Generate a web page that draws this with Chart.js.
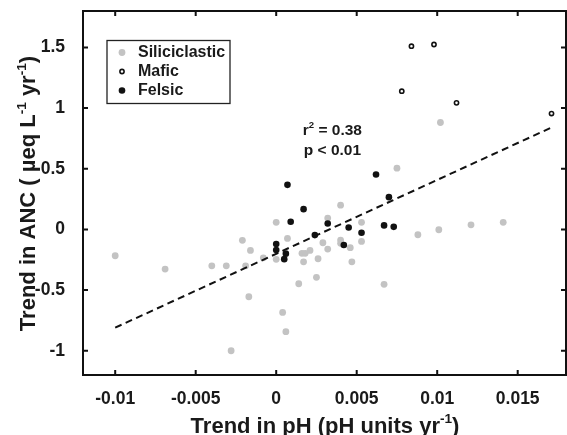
<!DOCTYPE html>
<html><head><meta charset="utf-8">
<script src="https://cdn.jsdelivr.net/npm/chart.js@4"></script>
<style>html,body{margin:0;padding:0;background:#fff;overflow:hidden;}#wrap{width:567px;height:435px;}canvas{display:block;}</style>
</head><body><div id="wrap"><canvas id="c" width="567" height="435"></canvas></div>
<script>
const xTicks = [-0.01, -0.005, 0, 0.005, 0.01, 0.015];
const xTickLabels = ['-0.01', '-0.005', '0', '0.005', '0.01', '0.015'];
const yTicks = [-1, -0.5, 0, 0.5, 1, 1.5];
const yTickLabels = ['-1', '-0.5', '0', '0.5', '1', '1.5'];

const siliciclasticX = [-0.0100,-0.0069,-0.0040,-0.0031,-0.0021,-0.0016,-0.0019,-0.0017,-0.0008,0.0000,0.0000,0.0007,0.0004,0.0006,-0.0028,0.0014,0.0016,0.0018,0.0017,0.0021,0.0026,0.0025,0.0029,0.0032,0.0032,0.0040,0.0053,0.0088,0.0101,0.0121,0.0141,0.0040,0.0040,0.0046,0.0053,0.0047,0.0067,0.0102,0.0075];
const siliciclasticY = [-0.217,-0.327,-0.300,-0.300,-0.090,-0.173,-0.300,-0.555,-0.234,0.058,-0.247,-0.074,-0.684,-0.843,-1.000,-0.448,-0.197,-0.197,-0.267,-0.173,-0.242,-0.395,-0.110,-0.162,0.093,0.200,0.058,-0.044,-0.003,0.038,0.058,-0.088,-0.115,-0.151,-0.099,-0.267,-0.453,0.881,0.505];

const maficX = [0.0084, 0.0098, 0.0078, 0.0112, 0.0171];
const maficY = [1.510, 1.524, 1.139, 1.043, 0.955];

const felsicX = [0.0007,0.0017,0.0009,0.0032,0.0024,0.0000,0.0000,0.0006,0.0005,0.0062,0.0070,0.0045,0.0053,0.0042,0.0067,0.0073];
const felsicY = [0.367,0.167,0.063,0.049,-0.047,-0.121,-0.170,-0.200,-0.245,0.453,0.266,0.016,-0.028,-0.129,0.033,0.021];

const fitX = [-0.0100, 0.0171];
const fitY = [-0.81, 0.84];

const seriesLabels = ['Siliciclastic', 'Mafic', 'Felsic'];
const annotationLines = ['r', '2', ' = 0.38', 'p < 0.01'];

const FF = "'Liberation Sans', Arial, Helvetica, sans-serif";
const pts = (xs, ys) => xs.map((x, i) => ({x: x, y: ys[i]}));

const styles = {
  Siliciclastic: {pointRadius: 3.4, backgroundColor: '#c3c3c3', borderColor: '#c3c3c3', borderWidth: 0},
  Mafic: {pointRadius: 2.1, backgroundColor: '#ffffff', borderColor: '#111111', borderWidth: 1.6},
  Felsic: {pointRadius: 3.3, backgroundColor: '#111111', borderColor: '#111111', borderWidth: 0}
};

function drawParts(ctx, parts, x, y, size, align) {
  let total = 0;
  const widths = parts.map(p => {
    ctx.font = 'bold ' + (p.sup ? size * 0.62 : size) + 'px ' + FF;
    const w = ctx.measureText(p.t).width;
    total += w;
    return w;
  });
  let cx = align === 'center' ? x - total / 2 : x;
  parts.forEach((p, i) => {
    ctx.font = 'bold ' + (p.sup ? size * 0.62 : size) + 'px ' + FF;
    ctx.fillText(p.t, cx, p.sup ? y - size * 0.42 : y);
    cx += widths[i];
  });
}

const decor = {
  id: 'decor',
  afterDraw(chart) {
    const ctx = chart.ctx;
    const a = chart.chartArea;
    const xs = chart.scales.x, ys = chart.scales.y;
    ctx.save();
    ctx.strokeStyle = '#111';
    ctx.lineWidth = 2;
    ctx.strokeRect(a.left, a.top, a.right - a.left, a.bottom - a.top);
    const tl = 5;
    ctx.beginPath();
    xs.ticks.forEach(t => {
      const px = xs.getPixelForValue(t.value);
      ctx.moveTo(px, a.bottom); ctx.lineTo(px, a.bottom - tl);
      ctx.moveTo(px, a.top); ctx.lineTo(px, a.top + tl);
    });
    ys.ticks.forEach(t => {
      const py = ys.getPixelForValue(t.value);
      ctx.moveTo(a.left, py); ctx.lineTo(a.left + tl, py);
      ctx.moveTo(a.right, py); ctx.lineTo(a.right - tl, py);
    });
    ctx.stroke();

    // legend
    const lx = a.left + 24, ly = a.top + 29.5, lw = 123, lh = 63;
    ctx.fillStyle = '#fff';
    ctx.fillRect(lx, ly, lw, lh);
    ctx.lineWidth = 1.3;
    ctx.strokeStyle = '#222';
    ctx.strokeRect(lx, ly, lw, lh);
    seriesLabels.forEach((name, i) => {
      const st = styles[name];
      const my = ly + 12 + i * 19;
      const mx = lx + 15;
      ctx.beginPath();
      ctx.arc(mx, my, st.pointRadius, 0, Math.PI * 2);
      ctx.fillStyle = st.backgroundColor;
      ctx.fill();
      if (st.borderWidth) { ctx.lineWidth = st.borderWidth; ctx.strokeStyle = st.borderColor; ctx.stroke(); }
      ctx.fillStyle = '#1a1a1a';
      ctx.font = 'bold 16px ' + FF;
      ctx.textBaseline = 'middle';
      ctx.textAlign = 'left';
      ctx.fillText(name, lx + 31, my + 0.5);
    });

    // annotation
    ctx.fillStyle = '#1a1a1a';
    ctx.textBaseline = 'alphabetic';
    ctx.textAlign = 'left';
    const ax = xs.getPixelForValue(0.00165);
    drawParts(ctx, [{t: annotationLines[0]}, {t: annotationLines[1], sup: true}, {t: annotationLines[2]}], ax, a.top + 123.5, 15.5, 'left');
    drawParts(ctx, [{t: annotationLines[3]}], ax + 1, a.top + 143.5, 15.5, 'left');

    // axis titles
    ctx.fillStyle = '#1a1a1a';
    drawParts(ctx, [{t: 'Trend in pH (pH units yr'}, {t: '-1', sup: true}, {t: ')'}], (a.left + a.right) / 2 + 0.5, 432.5, 22, 'center');
    ctx.translate(35, 193.5);
    ctx.rotate(-Math.PI / 2);
    drawParts(ctx, [{t: 'Trend in ANC ( \u00b5eq L'}, {t: '-1', sup: true}, {t: ' yr'}, {t: '-1', sup: true}, {t: ')'}], 0, 0, 22, 'center');
    ctx.restore();
  }
};

new Chart(document.getElementById('c'), {
  type: 'scatter',
  data: {
    datasets: [
      Object.assign({label: 'Felsic', data: pts(felsicX, felsicY)}, styles.Felsic),
      Object.assign({label: 'Mafic', data: pts(maficX, maficY)}, styles.Mafic),
      {label: 'fit', data: pts(fitX, fitY), showLine: true, pointRadius: 0, borderColor: '#111', borderWidth: 2, borderDash: [7, 4.5], fill: false},
      Object.assign({label: 'Siliciclastic', data: pts(siliciclasticX, siliciclasticY)}, styles.Siliciclastic)
    ]
  },
  options: {
    responsive: false,
    devicePixelRatio: 1,
    animation: false,
    layout: {autoPadding: false, padding: {top: 11, right: 1, left: 0, bottom: 0}},
    plugins: {legend: {display: false}, tooltip: {enabled: false}},
    scales: {
      x: {
        type: 'linear', min: -0.012, max: 0.018,
        grid: {display: false}, border: {display: false},
        afterBuildTicks: s => { s.ticks = xTicks.map(v => ({value: v})); },
        afterFit: s => { s.height = 60; s.paddingLeft = 0; s.paddingRight = 0; s.paddingTop = 0; s.paddingBottom = 0; },
        ticks: {padding: 6, color: '#1a1a1a', font: {family: FF, size: 17.5, weight: 'bold'},
          callback: (v) => { const i = xTicks.findIndex(t => Math.abs(t - v) < 1e-9); return i >= 0 ? xTickLabels[i] : ''; }}
      },
      y: {
        type: 'linear', min: -1.2, max: 1.8,
        grid: {display: false}, border: {display: false},
        afterBuildTicks: s => { s.ticks = yTicks.map(v => ({value: v})); },
        afterFit: s => { s.width = 83; s.paddingLeft = 0; s.paddingRight = 0; s.paddingTop = 0; s.paddingBottom = 0; },
        ticks: {padding: 10, color: '#1a1a1a', font: {family: FF, size: 17.5, weight: 'bold'},
          callback: (v) => { const i = yTicks.findIndex(t => Math.abs(t - v) < 1e-9); return i >= 0 ? yTickLabels[i] : ''; }}
      }
    }
  },
  plugins: [decor]
});
</script>
</body></html>
